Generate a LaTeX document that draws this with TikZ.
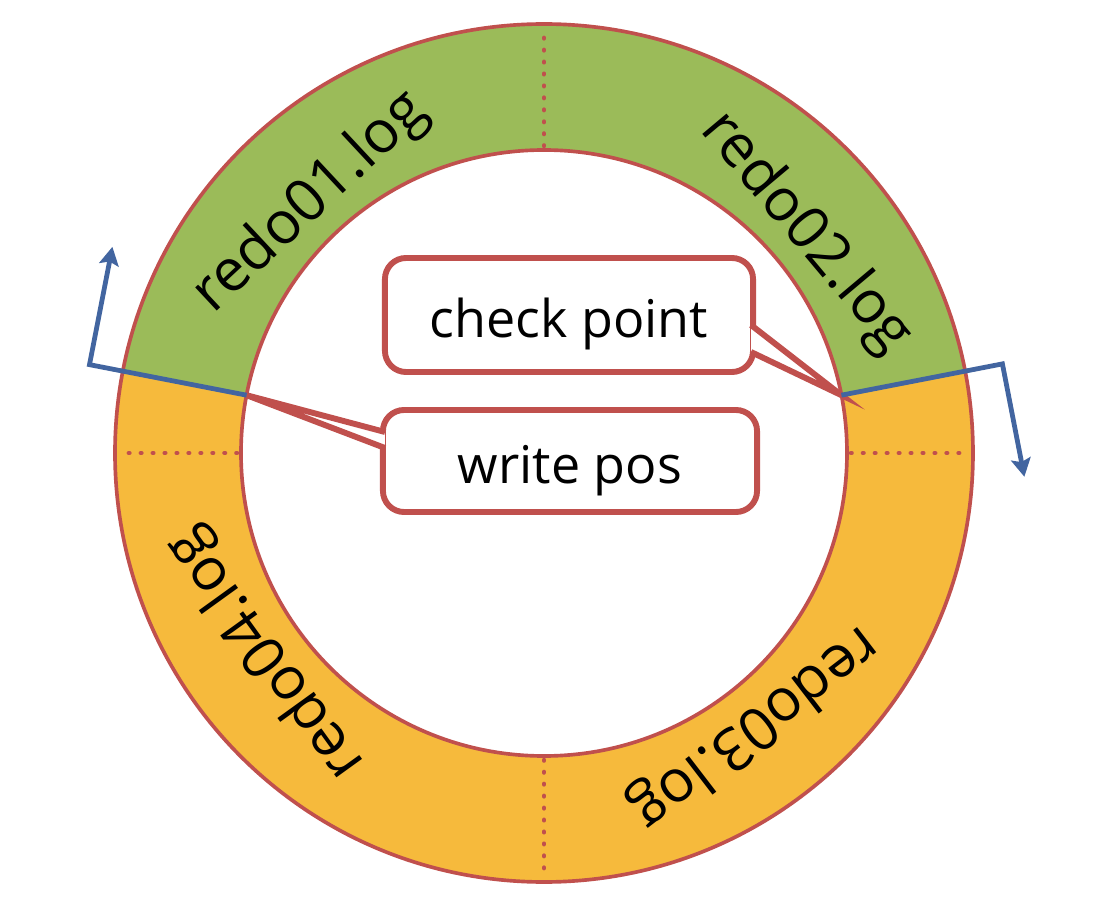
\documentclass[tikz,border=0pt]{standalone}
\usepackage{fontspec}
\setmainfont{Open Sans}
\usepackage{tikz}
\usetikzlibrary{arrows.meta}
\definecolor{ringred}{RGB}{192,80,77}
\definecolor{loggreen}{RGB}{155,187,89}
\definecolor{logorange}{RGB}{246,186,60}
\definecolor{posblue}{RGB}{66,101,160}
\tikzset{
  ringline/.style={draw=ringred,line width=1.3pt},
  seamdots/.style={draw=ringred,line width=1.6pt,line cap=round,dash pattern=on 0.2pt off 4.05pt},
  posline/.style={draw=posblue,line width=1.7pt,-{Stealth[length=6.5pt,width=7pt,inset=1.2pt]}},
  loglabel/.style={font=\fontsize{21}{24}\selectfont,inner sep=0pt},
  callbox/.style={draw=ringred,line width=2.1pt,fill=white,rounded corners=7.5pt,
    font=\fontsize{18.5}{22}\selectfont,text height=16pt,text depth=0pt},
  callbeak/.style={draw=ringred,line width=2.1pt,fill=white,line join=miter}
}

\begin{document}
\begin{tikzpicture}[x=0.0125cm,y=0.0125cm]
    \useasboundingbox (-544,-459) rectangle (576,453);
    \coordinate (c) at (0,0);
    \coordinate (wp) at (169:303);
    \coordinate (cp) at (11:303);
    \coordinate (wpbend) at (169:463);
    \coordinate (cpbend) at (11:467);
    \coordinate (wpend) at ([shift={(79:120)}]wpbend);
    \coordinate (cpend) at ([shift={(-79:115)}]cpbend);
    \fill[loggreen] (11:429) arc[start angle=11,end angle=169,radius=429]
      -- (169:303) arc[start angle=169,end angle=11,radius=303] -- cycle;
    \fill[logorange] (169:429) arc[start angle=169,end angle=371,radius=429]
      -- (11:303) arc[start angle=371,end angle=169,radius=303] -- cycle;
    \foreach \a in {0,90,180,270}
      \draw[seamdots] (\a:307) -- (\a:425);
    \draw[ringline] (c) circle[radius=429];
    \draw[ringline] (c) circle[radius=303];
    \node[loglabel,rotate=43] (log1) at (133:342) {redo01.log};
    \node[loglabel,rotate=-50] (log2) at (40:342) {redo02.log};
    \node[loglabel,rotate=-142.5] (log3) at (-52.5:345) {redo03.log};
    \node[loglabel,rotate=125.8] (log4) at (215.8:342) {redo04.log};
    \node[callbox,minimum width=4.6cm,minimum height=1.425cm] (cpbox) at (25,138) {check point};
    \node[callbox,minimum width=4.675cm,minimum height=1.275cm] (wpbox) at (26,-8) {write pos};
    \filldraw[callbeak] ([shift={(-5,-10)}]cpbox.east) -- (cp) -- ([shift={(-5,-37)}]cpbox.east);
    \filldraw[callbeak] ([shift={(5,29)}]wpbox.west) -- (wp) -- ([shift={(5,13)}]wpbox.west);
    \draw[posline] (wp) -- (wpbend) -- (wpend);
    \draw[posline] (cp) -- (cpbend) -- (cpend);
\end{tikzpicture}
\end{document}
